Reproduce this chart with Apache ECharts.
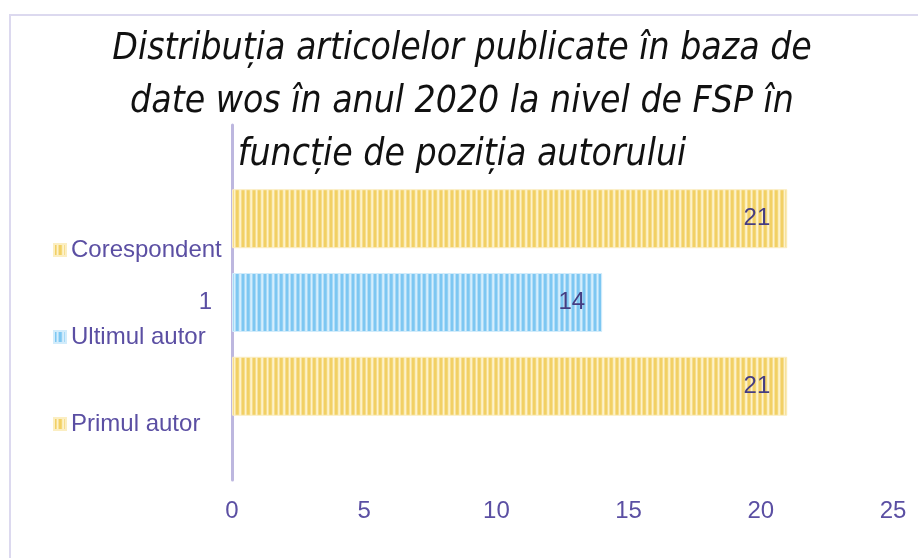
<!DOCTYPE html>
<html>
<head>
<meta charset="utf-8">
<script src="https://cdn.jsdelivr.net/npm/echarts@6/dist/echarts.min.js"></script>
<style>
  html, body { margin: 0; padding: 0; background: #fff; }
  #chart { width: 918px; height: 558px; }
</style>
</head>
<body>
<div id="chart"></div>
<script>
  // categorii si valori
  const categories = ['1']
  const seriesNames = ['Primul autor', 'Ultimul autor', 'Corespondent']
  const primulAutor = [21]
  const ultimulAutor = [14]
  const corespondent = [21]
  const xTicks = { min: 0, max: 25, interval: 5 }

  // hasura verticala pentru bare
  function stripes(cols) {
    let c = document.createElement('canvas')
    c.width = cols.length
    c.height = 4
    let g = c.getContext('2d')
    cols.forEach((col, i) => {
      g.fillStyle = col
      g.fillRect(i, 0, 1, 4)
    })
    return { image: c, repeat: 'repeat' }
  }
  const yellow = stripes(['#f2d064', '#f2d064', '#f6dd8e', '#fdf2cb', '#f7e29c',
                          '#f2d064', '#f2d064', '#f4d878', '#fbedbb', '#fdf2cb', '#f6dd8e'])
  const blue = stripes(['#7dc7f2', '#7dc7f2', '#a6d9f7', '#d6eefc', '#b0ddf8',
                        '#7dc7f2', '#7dc7f2', '#92d0f4', '#c9e8fa', '#d6eefc', '#a6d9f7'])

  const txt = '#5b4fa3'
  const font = 'Liberation Sans, Arial, sans-serif'

  function makeSeries(name, data, color, edge) {
    return {
      name: name,
      type: 'bar',
      data: data,
      barWidth: 59,
      barGap: '42%',
      itemStyle: { color: color, borderColor: edge, borderWidth: 1 },
      label: {
        show: true,
        position: 'insideRight',
        offset: [-12, 0],
        color: '#453d82',
        fontSize: 24,
        fontFamily: font
      }
    }
  }

  let myChart = echarts.init(document.getElementById('chart'))
  myChart.setOption({
    animation: false,
    title: {
      text: 'Distribuția articolelor publicate în baza de\ndate wos în anul 2020 la nivel de FSP în\nfuncție de poziția autorului',
      left: 457,
      top: 18,
      textAlign: 'center',
      textStyle: {
        fontFamily: 'DejaVu Sans Condensed',
        fontStyle: 'italic',
        fontWeight: 'normal',
        fontSize: 37,
        lineHeight: 53,
        color: '#111'
      }
    },
    legend: {
      data: ['Corespondent', 'Ultimul autor', 'Primul autor'],
      orient: 'vertical',
      left: 48,
      top: 233,
      itemWidth: 12,
      itemHeight: 12,
      itemGap: 63,
      icon: 'rect',
      selectedMode: false,
      textStyle: { color: txt, fontSize: 24, fontFamily: font }
    },
    grid: { left: 232, right: 25, top: 125, bottom: 78, containLabel: false },
    xAxis: {
      type: 'value',
      min: xTicks.min,
      max: xTicks.max,
      interval: xTicks.interval,
      axisLine: { show: false },
      axisTick: { show: false },
      splitLine: { show: false },
      axisLabel: { color: txt, fontSize: 24, fontFamily: font, margin: 19 }
    },
    yAxis: {
      type: 'category',
      data: categories,
      axisLine: { show: true, lineStyle: { color: '#bdb7df', width: 3 } },
      axisTick: { show: false },
      axisLabel: { color: txt, fontSize: 24, fontFamily: font, margin: 20 }
    },
    graphic: [{
      type: 'rect',
      shape: { x: 10, y: 15, width: 2000, height: 2000 },
      style: { fill: 'none', stroke: '#dcd9ef', lineWidth: 2 },
      silent: true,
      z: -1
    }],
    series: [
      makeSeries(seriesNames[0], primulAutor, yellow, '#fbeec2'),
      makeSeries(seriesNames[1], ultimulAutor, blue, '#d2ecfb'),
      makeSeries(seriesNames[2], corespondent, yellow, '#fbeec2')
    ]
  })
</script>
</body>
</html>
